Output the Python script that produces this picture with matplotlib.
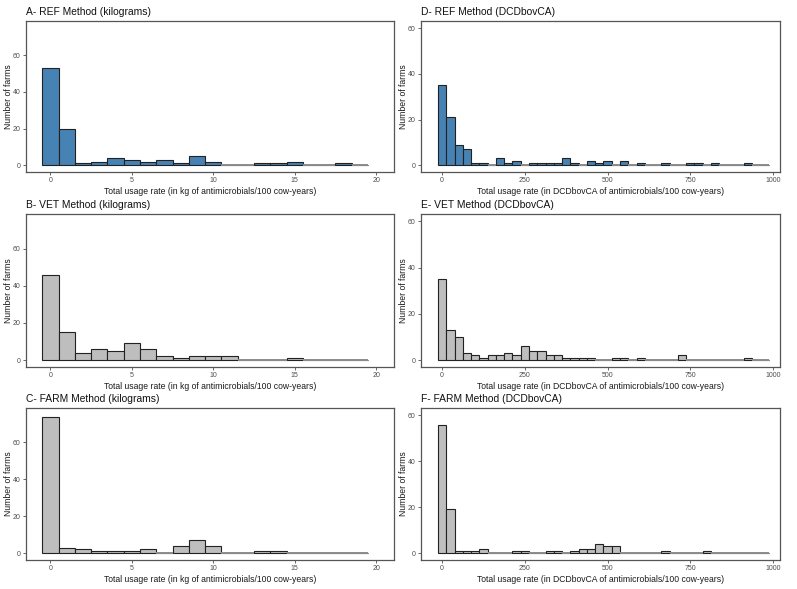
import matplotlib
matplotlib.use("Agg")
import matplotlib.pyplot as plt
import numpy as np

plt.rcParams["font.family"] = ["Liberation Sans", "DejaVu Sans"]

# counts per 1 kg bin (bins centred at 0..19)
kg_centers = np.arange(0, 20)
ref_kg = [53, 20, 1, 2, 4, 3, 2, 3, 1, 5, 2, 0, 0, 1, 1, 2, 0, 0, 1, 0]
vet_kg = [46, 15, 4, 6, 5, 9, 6, 2, 1, 2, 2, 2, 0, 0, 0, 1, 0, 0, 0, 0]
farm_kg = [74, 3, 2, 1, 1, 1, 2, 0, 4, 7, 4, 0, 0, 1, 1, 0, 0, 0, 0, 0]

# counts per 25 DCDbovCA bin (bins centred at 0, 25, ..., 975)
dcd_centers = np.arange(0, 1000, 25)
ref_dcd = [35, 21, 9, 7, 1, 1, 0, 3, 1, 2, 0, 1, 1, 1, 1, 3, 1, 0, 2, 1,
           2, 0, 2, 0, 1, 0, 0, 1, 0, 0, 1, 1, 0, 1, 0, 0, 0, 1, 0, 0]
vet_dcd = [35, 13, 10, 3, 2, 1, 2, 2, 3, 2, 6, 4, 4, 2, 2, 1, 1, 1, 1, 0,
           0, 1, 1, 0, 1, 0, 0, 0, 0, 2, 0, 0, 0, 0, 0, 0, 0, 1, 0, 0]
farm_dcd = [56, 19, 1, 1, 1, 2, 0, 0, 0, 1, 1, 0, 0, 1, 1, 0, 1, 2, 2, 4,
            3, 3, 0, 0, 0, 0, 0, 1, 0, 0, 0, 0, 1, 0, 0, 0, 0, 0, 0, 0]

BLUE = "#4682B4"
GREY = "#BEBEBE"

panels = [
    ("A- REF Method (kilograms)", kg_centers, ref_kg, 1, BLUE, "kg"),
    ("B- VET Method (kilograms)", kg_centers, vet_kg, 1, GREY, "kg"),
    ("C- FARM Method (kilograms)", kg_centers, farm_kg, 1, GREY, "kg"),
    ("D- REF Method (DCDbovCA)", dcd_centers, ref_dcd, 25, BLUE, "dcd"),
    ("E- VET Method (DCDbovCA)", dcd_centers, vet_dcd, 25, GREY, "dcd"),
    ("F- FARM Method (DCDbovCA)", dcd_centers, farm_dcd, 25, GREY, "dcd"),
]

W, H = 797, 589
fig = plt.figure(figsize=(W / 100, H / 100), dpi=100)

rows = [(21, 172), (214, 367), (408, 560)]
cols = {"kg": (26, 394), "dcd": (421, 780)}

for i, (title, centers, counts, width, color, kind) in enumerate(panels):
    x0, x1 = cols[kind]
    y0, y1 = rows[i % 3]
    ax = fig.add_axes([x0 / W, 1 - y1 / H, (x1 - x0) / W, (y1 - y0) / H])
    ax.bar(centers, counts, width=width, color=color, edgecolor="#222222",
           linewidth=0.8)
    # zero bins show as a flat grey line in the original
    zero = [c for c, n in zip(centers, counts) if n == 0]
    for c in zero:
        ax.plot([c - width / 2, c + width / 2], [0, 0], color="#8c8c8c",
                lw=1.4, solid_capstyle="butt")

    if kind == "kg":
        ax.set_xlim(-1.5, 21.1)
        ax.set_ylim(-3.7, 78.7)
        ax.set_xticks([0, 5, 10, 15, 20])
        ax.set_xlabel("Total usage rate (in kg of antimicrobials/100 cow-years)",
                      fontsize=6.2, color="#1a1a1a", labelpad=2)
    else:
        ax.set_xlim(-64, 1021)
        ax.set_ylim(-3, 63.2)
        ax.set_xticks([0, 250, 500, 750, 1000])
        ax.set_xlabel("Total usage rate (in DCDbovCA of antimicrobials/100 cow-years)",
                      fontsize=6.2, color="#1a1a1a", labelpad=2)
    ax.set_yticks([0, 20, 40, 60])
    ax.set_ylabel("Number of farms", fontsize=6.2, color="#1a1a1a")
    # y label sits just left of the tick labels
    ax.yaxis.set_label_coords(-13 / (x1 - x0), 0.5)
    ax.tick_params(labelsize=5, labelcolor="#4d4d4d", color="#4d4d4d",
                   length=2.2, width=0.6, pad=1.5)
    for s in ax.spines.values():
        s.set_color("#555555")
        s.set_linewidth(0.9)
    ax.set_title(title, loc="left", fontsize=7.4, color="#111111", pad=4)

fig.savefig("out.png", dpi=100)
